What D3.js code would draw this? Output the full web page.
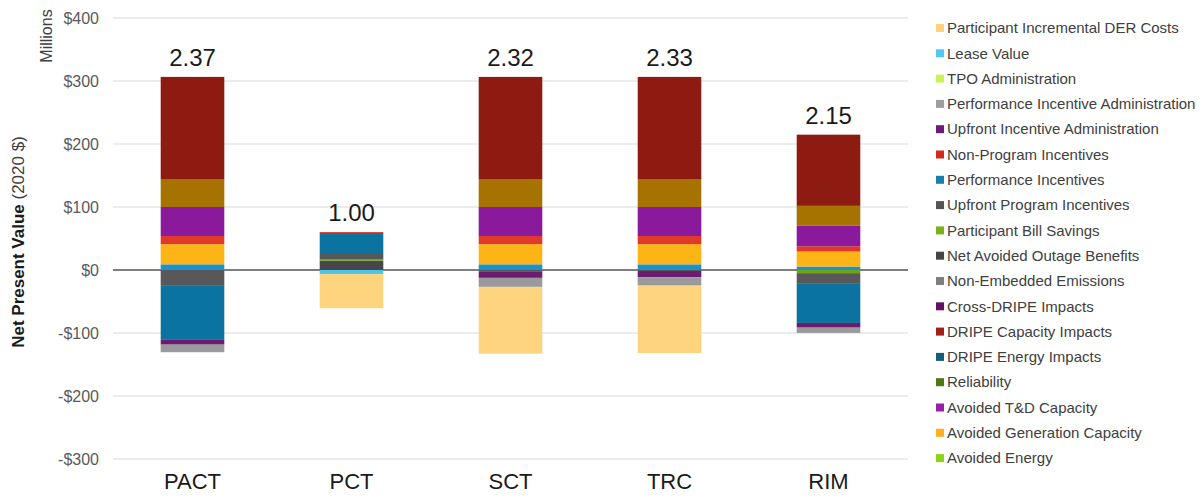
<!DOCTYPE html>
<html>
<head>
<meta charset="utf-8">
<script src="https://cdn.jsdelivr.net/npm/d3@7/dist/d3.min.js"></script>
<style>
  html, body { margin: 0; padding: 0; background: #ffffff; }
  svg { display: block; font-family: "Liberation Sans", Arial, sans-serif; }
</style>
</head>
<body>
<svg id="chart" width="1204" height="497"></svg>
<script>
// Cost tests shown along the x axis
const tests = ["PACT", "PCT", "SCT", "TRC", "RIM"];

// Benefit-cost ratio printed above each bar
const ratioLabels = ["2.37", "1.00", "2.32", "2.33", "2.15"];

// Stack components, in stacking order (positives go up, negatives go down, $ millions)
const componentNames = [
  "Net Avoided Outage Benefits",
  "Participant Bill Savings",
  "Upfront Program Incentives",
  "Performance Incentives",
  "Non-Program Incentives",
  "Lease Value",
  "Upfront Incentive Administration",
  "Performance Incentive Administration",
  "Participant Incremental DER Costs",
  "DRIPE Energy Impacts",
  "Avoided Generation Capacity",
  "DRIPE Capacity Impacts",
  "Avoided T&D Capacity",
  "Reliability",
  "Avoided Energy"
];

// Values per test, same order as `tests`
const netAvoidedOutage      = [0,     14.8,  0,     0,     0];
const participantBillSave   = [0,     1.6,   0,     0,    -5.0];
const upfrontProgramInc     = [-24.0, 10.6, -3.0,  -1.5, -17.0];
const performanceInc        = [-86.0, 31.7,  0,     0,   -62.0];
const nonProgramInc         = [0,     1.5,   0,     0,     0];
const leaseValue            = [0,    -6.3,   0,     0,     0];
const upfrontIncAdmin       = [-8.5,  0,    -9.5,  -10.0, -7.5];
const perfIncAdmin          = [-12.0, 0,    -14.3, -13.3, -8.4];
const participantDerCosts   = [0,    -54.4, -106.0, -107.0, 0];
const dripeEnergy           = [9.0,   0,     9.0,   9.0,   5.5];
const avoidedGenCapacity    = [32.0,  0,     32.0,  32.0,  23.8];
const dripeCapacity         = [13.0,  0,     13.0,  13.0,  8.4];
const avoidedTdCapacity     = [46.0,  0,     46.0,  46.0,  32.4];
const reliability           = [43.5,  0,     43.5,  43.5,  31.7];
const avoidedEnergy         = [163.0, 0,     163.0, 163.0, 113.0];

const componentValues = [
  netAvoidedOutage, participantBillSave, upfrontProgramInc, performanceInc,
  nonProgramInc, leaseValue, upfrontIncAdmin, perfIncAdmin, participantDerCosts,
  dripeEnergy, avoidedGenCapacity, dripeCapacity, avoidedTdCapacity,
  reliability, avoidedEnergy
];

// Y axis tick values ($ millions)
const yTicks = [-300, -200, -100, 0, 100, 200, 300, 400];

// Legend entries, top to bottom
const legendNames = [
  "Participant Incremental DER Costs",
  "Lease Value",
  "TPO Administration",
  "Performance Incentive Administration",
  "Upfront Incentive Administration",
  "Non-Program Incentives",
  "Performance Incentives",
  "Upfront Program Incentives",
  "Participant Bill Savings",
  "Net Avoided Outage Benefits",
  "Non-Embedded Emissions",
  "Cross-DRIPE Impacts",
  "DRIPE Capacity Impacts",
  "DRIPE Energy Impacts",
  "Reliability",
  "Avoided T&D Capacity",
  "Avoided Generation Capacity",
  "Avoided Energy"
];

// ---- styling ----
const barColors = {
  "Net Avoided Outage Benefits": "#474747",
  "Participant Bill Savings": "#6da514",
  "Upfront Program Incentives": "#58585a",
  "Performance Incentives": "#0b73a0",
  "Non-Program Incentives": "#e0392b",
  "Lease Value": "#4dc3f0",
  "Upfront Incentive Administration": "#6b1c6e",
  "Performance Incentive Administration": "#9a9a9c",
  "Participant Incremental DER Costs": "#ffd47f",
  "DRIPE Energy Impacts": "#1a93cc",
  "Avoided Generation Capacity": "#fdb515",
  "DRIPE Capacity Impacts": "#e0392b",
  "Avoided T&D Capacity": "#8a1a9b",
  "Reliability": "#a67300",
  "Avoided Energy": "#8e1b12"
};

const legendColors = [
  "#ffd27f", "#4fc8f2", "#ccf25a", "#9e9e9e", "#6e1a78", "#d2281e",
  "#167faa", "#555555", "#78b31c", "#454545", "#7f7f7f", "#5e1463",
  "#a12017", "#145e7a", "#4e7a10", "#9a1fa8", "#ffb020", "#8cd41a"
];

const svg = d3.select("#chart");

const plotLeft = 113, plotRight = 908;
const x = d3.scaleBand().domain(tests).range([plotLeft, plotRight]).paddingInner(0.6).paddingOuter(0.3);
const y = d3.scaleLinear().domain([-300, 400]).range([459, 18]);

// table rows for d3.stack
const rows = tests.map((t, i) => {
  const r = { test: t };
  componentNames.forEach((n, k) => { r[n] = componentValues[k][i]; });
  return r;
});

const stacked = d3.stack()
  .keys(componentNames)
  .offset(d3.stackOffsetDiverging)(rows);

// gridlines
svg.append("g")
  .selectAll("line")
  .data(yTicks.filter(v => v !== 0))
  .join("line")
  .attr("x1", plotLeft).attr("x2", plotRight)
  .attr("y1", d => y(d)).attr("y2", d => y(d))
  .attr("stroke", "#d9d9d9").attr("stroke-width", 1);

// zero line
svg.append("line")
  .attr("x1", plotLeft).attr("x2", plotRight)
  .attr("y1", y(0)).attr("y2", y(0))
  .attr("stroke", "#7f7f7f").attr("stroke-width", 2);

// y tick labels
const yAxis = d3.axisLeft(y)
  .tickValues(yTicks)
  .tickSize(0)
  .tickPadding(0)
  .tickFormat(d => (d < 0 ? "-$" : "$") + Math.abs(d));
const yg = svg.append("g").attr("transform", "translate(99,0)").call(yAxis);
yg.select(".domain").remove();
yg.selectAll("text")
  .attr("fill", "#595959")
  .style("font-size", "16px")
  .style("font-family", "'Liberation Sans', Arial, sans-serif");

// x category labels
const xAxis = d3.axisBottom(x).tickSize(0).tickPadding(0);
const xg = svg.append("g").attr("transform", "translate(0,473)").call(xAxis);
xg.select(".domain").remove();
xg.selectAll("text")
  .attr("fill", "#1a1a1a")
  .style("font-size", "22px")
  .style("font-family", "'Liberation Sans', Arial, sans-serif");

// stacked bars
svg.append("g")
  .selectAll("g")
  .data(stacked)
  .join("g")
  .attr("fill", d => barColors[d.key])
  .selectAll("rect")
  .data(d => d)
  .join("rect")
  .attr("x", d => x(d.data.test))
  .attr("width", x.bandwidth())
  .attr("y", d => y(Math.max(d[0], d[1])))
  .attr("height", d => Math.abs(y(d[0]) - y(d[1])));

// ratio labels above each bar
const tops = tests.map((t, i) => d3.sum(componentValues, arr => Math.max(0, arr[i])));
svg.append("g")
  .selectAll("text")
  .data(tests)
  .join("text")
  .attr("x", d => x(d) + x.bandwidth() / 2)
  .attr("y", (d, i) => y(tops[i]) - 11)
  .attr("text-anchor", "middle")
  .attr("fill", "#1a1a1a")
  .style("font-size", "24px")
  .text((d, i) => ratioLabels[i]);

// axis titles
svg.append("text")
  .attr("transform", "translate(52,36) rotate(-90)")
  .attr("text-anchor", "middle")
  .attr("fill", "#404040")
  .style("font-size", "16px")
  .text("Millions");

const yTitle = svg.append("text")
  .attr("transform", "translate(24,242) rotate(-90)")
  .attr("text-anchor", "middle")
  .attr("fill", "#1a1a1a")
  .style("font-size", "17px");
yTitle.append("tspan").attr("font-weight", "bold").text("Net Present Value ");
yTitle.append("tspan").attr("fill", "#404040").text("(2020 $)");

// legend
const legend = svg.append("g").attr("transform", "translate(936,28)");
const item = legend.selectAll("g")
  .data(legendNames)
  .join("g")
  .attr("transform", (d, i) => `translate(0,${i * 25.3})`);
item.append("rect")
  .attr("x", 0).attr("y", -4)
  .attr("width", 8).attr("height", 8)
  .attr("fill", (d, i) => legendColors[i]);
item.append("text")
  .attr("x", 11).attr("y", 0)
  .attr("dy", "0.35em")
  .attr("fill", "#404040")
  .style("font-size", "15px")
  .text(d => d);
</script>
</body>
</html>
